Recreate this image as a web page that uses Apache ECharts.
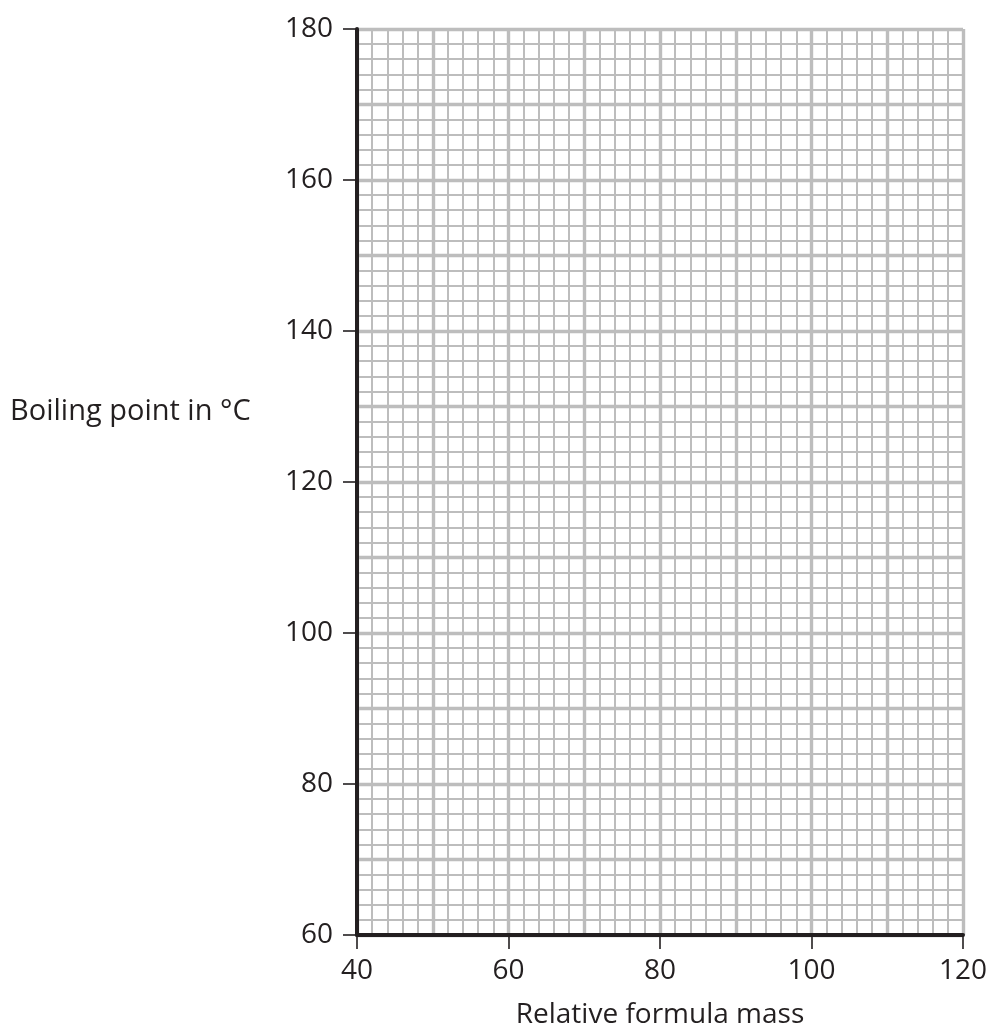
<!DOCTYPE html>
<html>
<head>
<meta charset="utf-8">
<script src="https://cdn.jsdelivr.net/npm/echarts@6/dist/echarts.min.js"></script>
<style>
html,body{margin:0;padding:0;background:#fff;}
#chart{width:991px;height:1034px;}
</style>
</head>
<body>
<div id="chart"></div>
<script>
// Axis ranges and tick labels
const xRange = [40, 120];
const yRange = [60, 180];
const xTickLabels = [40, 60, 80, 100, 120];
const yTickLabels = [60, 80, 100, 120, 140, 160, 180];
const xTitle = 'Relative formula mass';
const yTitle = 'Boiling point in °C';
// No data plotted (blank graph paper)
const points = [];

const FONT = '"Open Sans", sans-serif';
const TXT = '#231f20';
const GRID_C = '#bdbdbd';

const chart = echarts.init(document.getElementById('chart'), null, {renderer: 'canvas'});

function gridAxis(range, extra) {
  return Object.assign({
    type: 'value', min: range[0], max: range[1], interval: 10,
    axisLine: {show: false}, axisTick: {show: false}, axisLabel: {show: false},
    splitLine: {show: true, lineStyle: {color: GRID_C, width: 3.4}},
    minorTick: {show: false, splitNumber: 5},
    minorSplitLine: {show: true, lineStyle: {color: GRID_C, width: 2}},
    z: 0
  }, extra || {});
}

function mainAxis(range, ticks, pos, extra) {
  return Object.assign({
    type: 'value', min: range[0], max: range[1], interval: ticks[1] - ticks[0],
    position: pos,
    axisLine: {show: true, onZero: false, lineStyle: {color: TXT, width: 4}},
    axisTick: {show: true, inside: false, length: 14, lineStyle: {color: TXT, width: 1.6}},
    axisLabel: {show: true, color: TXT, fontFamily: FONT, fontSize: 28, margin: 9},
    splitLine: {show: false},
    z: 5
  }, extra || {});
}

chart.setOption({
  animation: false,
  backgroundColor: '#fff',
  grid: {left: 357, right: 28, top: 29, bottom: 99, containLabel: false},
  xAxis: [
    gridAxis(xRange, {position: 'bottom'}),
    mainAxis(xRange, xTickLabels, 'bottom', {
      name: xTitle, nameLocation: 'middle', nameGap: 66,
      nameTextStyle: {color: TXT, fontFamily: FONT, fontSize: 28},
      axisLabel: {show: true, color: TXT, fontFamily: FONT, fontSize: 28, margin: 22}
    })
  ],
  yAxis: [
    gridAxis(yRange, {position: 'left'}),
    mainAxis(yRange, yTickLabels, 'left', {
      axisLabel: {show: true, color: TXT, fontFamily: FONT, fontSize: 28, margin: 24}
    })
  ],
  graphic: [{
    type: 'text', left: 10, top: 397,
    style: {text: yTitle, fill: TXT, font: '29px "Open Sans", sans-serif'}
  }],
  series: [{
    type: 'scatter', xAxisIndex: 1, yAxisIndex: 1, data: points, silent: true
  }]
});
</script>
</body>
</html>
